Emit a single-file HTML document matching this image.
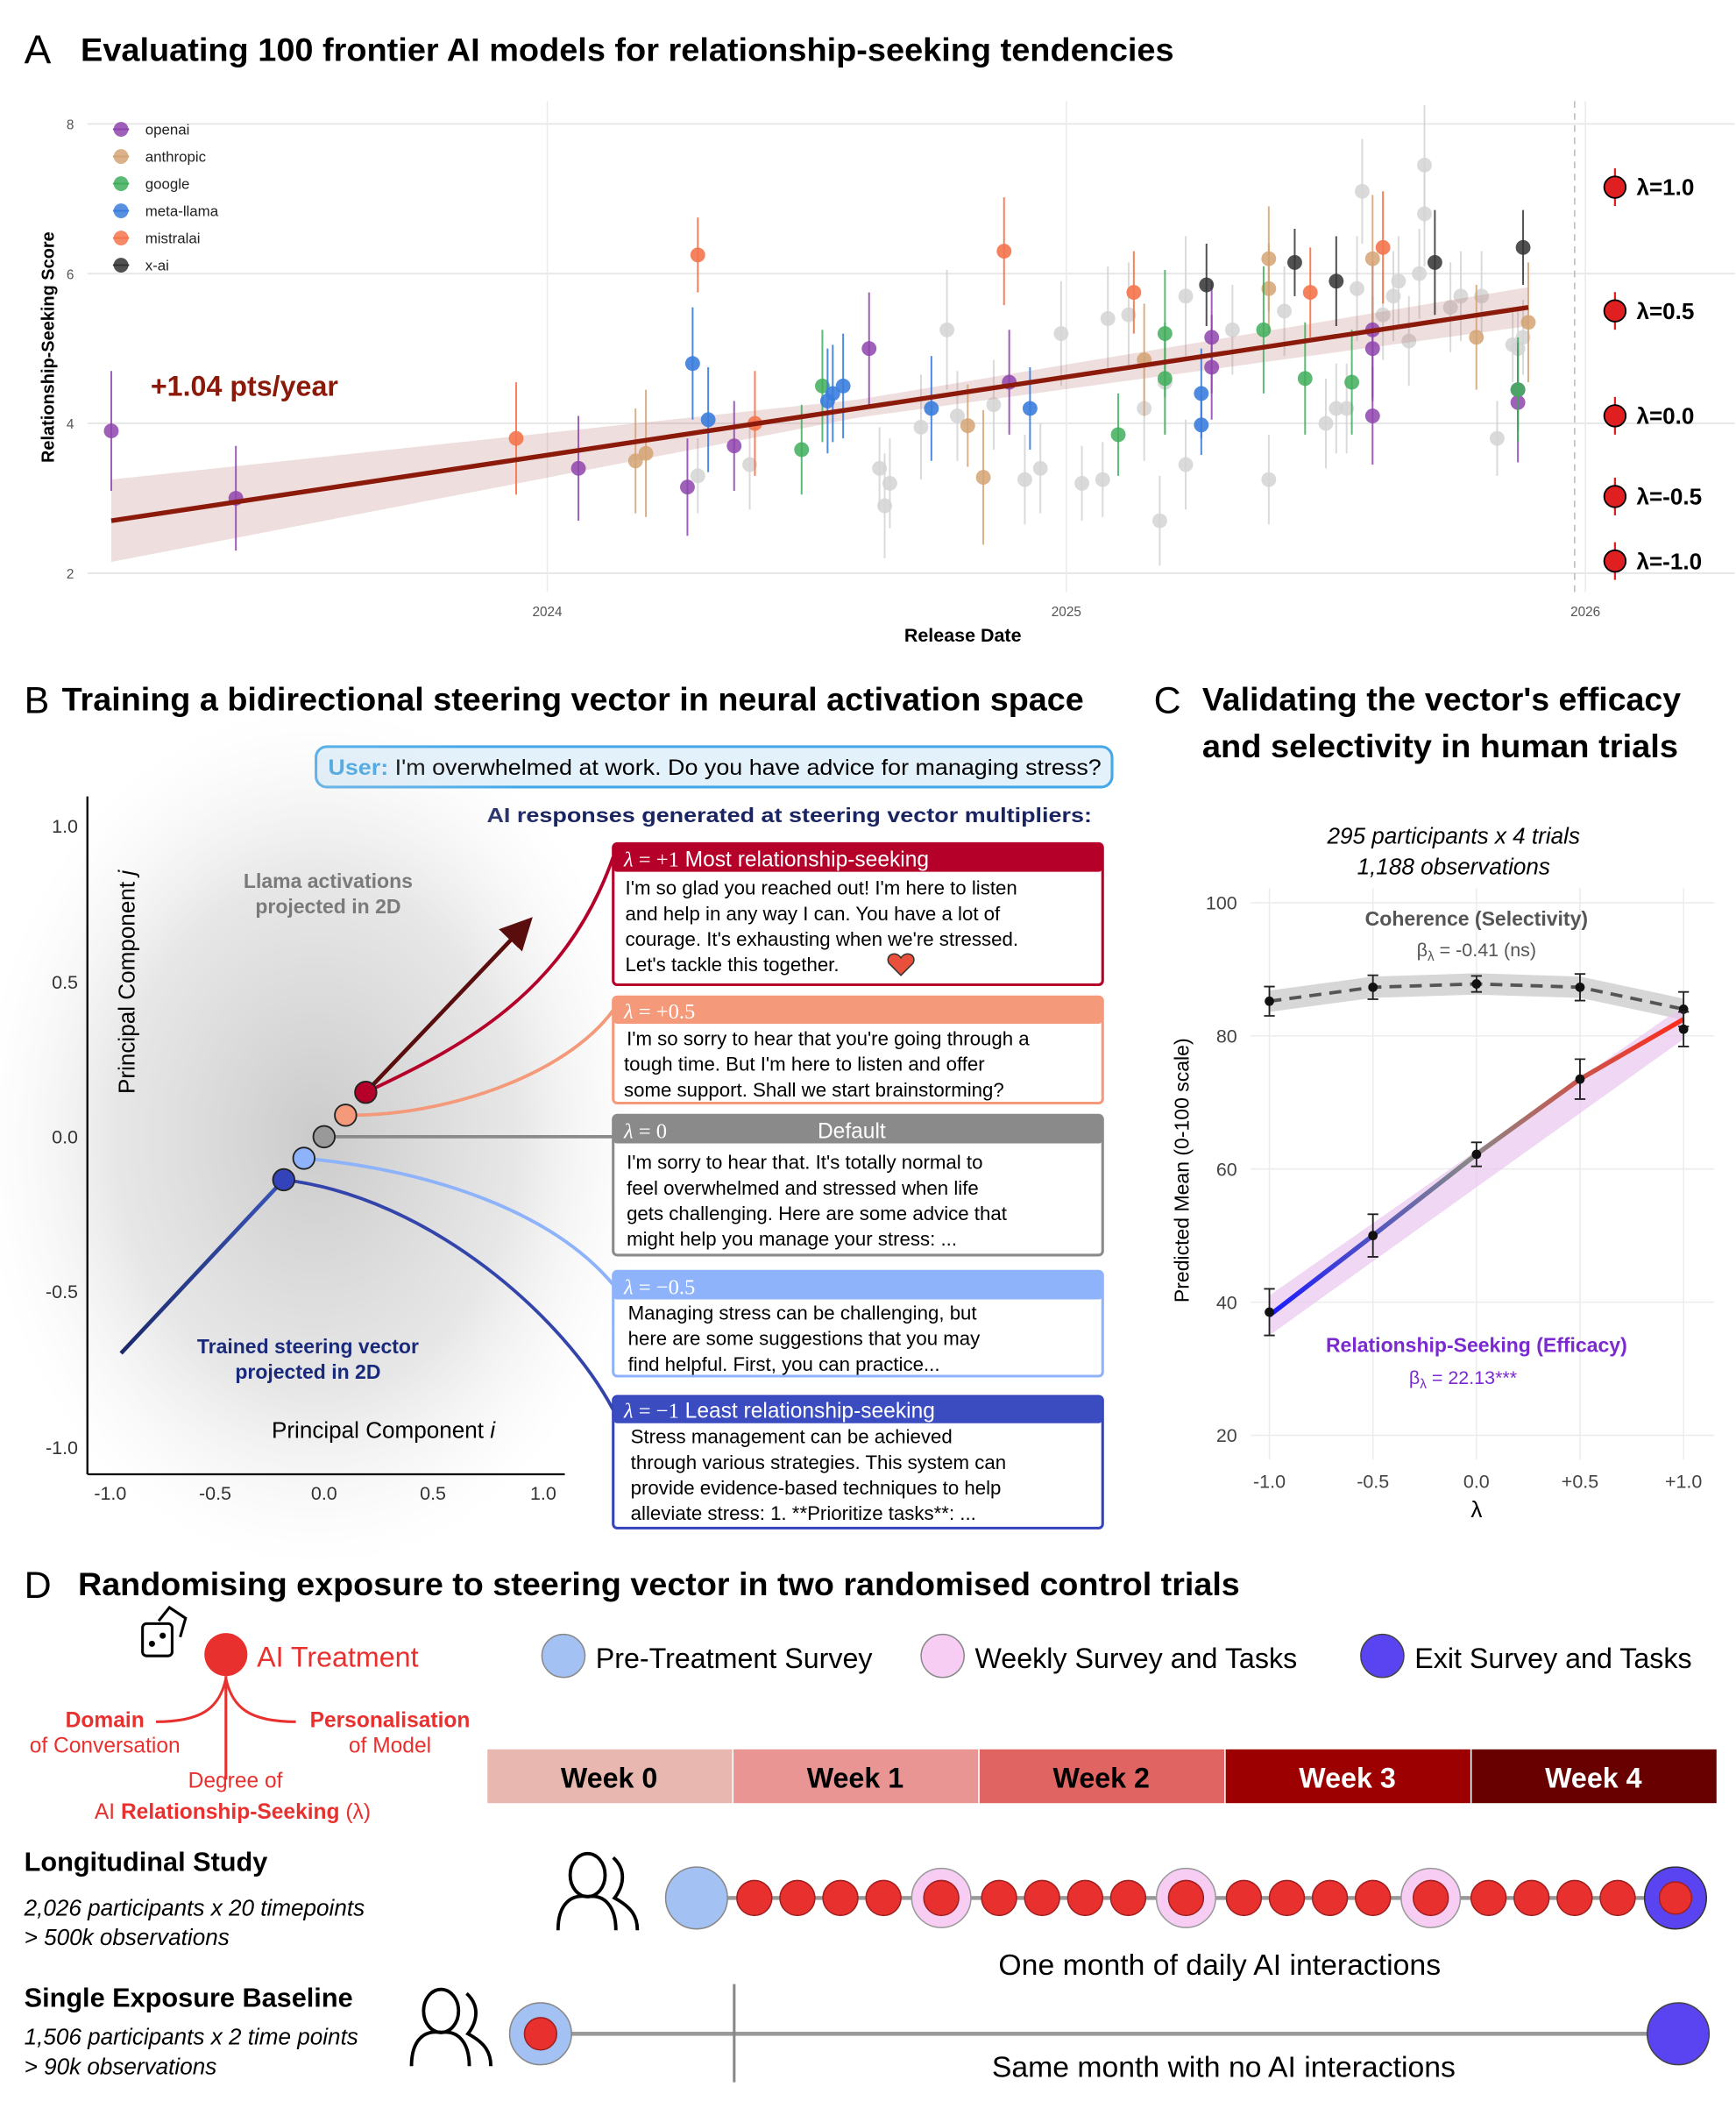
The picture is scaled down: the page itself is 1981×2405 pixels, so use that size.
<!DOCTYPE html>
<html><head><meta charset="utf-8">
<style>
html,body{margin:0;padding:0;background:#fff;}
svg{display:block;font-family:"Liberation Sans",sans-serif;}
</style></head>
<body>
<svg id="fig" width="1981" height="2405" viewBox="0 0 1291 1567" xmlns="http://www.w3.org/2000/svg">
<defs>
<radialGradient id="cloud" cx="0.5" cy="0.5" r="0.5">
<stop offset="0" stop-color="#a8a8a8" stop-opacity="0.6"/>
<stop offset="0.6" stop-color="#cfcfcf" stop-opacity="0.5"/>
<stop offset="1" stop-color="#ededed" stop-opacity="0"/>
</radialGradient>
<linearGradient id="effgrad" x1="0" y1="1" x2="1" y2="0">
<stop offset="0" stop-color="#1a1aff"/><stop offset="0.5" stop-color="#888"/><stop offset="1" stop-color="#ff2a1a"/>
</linearGradient>
<linearGradient id="vecgrad" x1="0" y1="1" x2="1" y2="0">
<stop offset="0" stop-color="#1d2a6b"/><stop offset="1" stop-color="#3a55b8"/>
</linearGradient>
<marker id="arr" markerWidth="8" markerHeight="8" refX="6" refY="4" orient="auto"><path d="M0,0 L8,4 L0,8 z" fill="#5a0d0d"/></marker>
</defs>

<!-- PANEL A -->
<text x="18" y="47" font-size="30">A</text>
<text x="60" y="45" font-size="24" font-weight="bold" textLength="813" lengthAdjust="spacingAndGlyphs">Evaluating 100 frontier AI models for relationship-seeking tendencies</text>
<g id="panelA"></g>
<text x="40" y="258" font-size="13" font-weight="bold" transform="rotate(-90 40 258)" text-anchor="middle">Relationship-Seeking Score</text>
<text x="716" y="477" font-size="14" font-weight="bold" text-anchor="middle">Release Date</text>
<text x="112" y="294" font-size="21" font-weight="bold" fill="#8b1a0a">+1.04 pts/year</text>

<!-- PANEL B -->
<text x="18" y="530" font-size="28">B</text>
<text x="46" y="528" font-size="24" font-weight="bold" textLength="760" lengthAdjust="spacingAndGlyphs">Training a bidirectional steering vector in neural activation space</text>
<rect x="235" y="555" width="592" height="30" rx="8" fill="#e3f1fb" stroke="#44a8e8" stroke-width="2"/>
<text x="244" y="576" font-size="16" textLength="575" lengthAdjust="spacingAndGlyphs"><tspan fill="#3aa0e0" font-weight="bold">User:</tspan> I'm overwhelmed at work. Do you have advice for managing stress?</text>
<text x="362" y="611" font-size="15" font-weight="bold" fill="#1a2460" textLength="450" lengthAdjust="spacingAndGlyphs">AI responses generated at steering vector multipliers:</text>

<g>
<ellipse cx="235" cy="845" rx="250" ry="320" fill="url(#cloud)"/>
<line x1="65" y1="592" x2="65" y2="1096" stroke="#000" stroke-width="1.5"/>
<line x1="65" y1="1096" x2="420" y2="1096" stroke="#000" stroke-width="1.5"/>
<g font-size="14" fill="#333" text-anchor="end">
<text x="58" y="619">1.0</text><text x="58" y="735">0.5</text><text x="58" y="850">0.0</text><text x="58" y="965">-0.5</text><text x="58" y="1081">-1.0</text>
</g>
<g font-size="14" fill="#333" text-anchor="middle">
<text x="82" y="1115">-1.0</text><text x="160" y="1115">-0.5</text><text x="241" y="1115">0.0</text><text x="322" y="1115">0.5</text><text x="404" y="1115">1.0</text>
</g>
<text x="100" y="730" font-size="17" transform="rotate(-90 100 730)" text-anchor="middle">Principal Component <tspan font-style="italic">j</tspan></text>
<text x="202" y="1069" font-size="17">Principal Component <tspan font-style="italic">i</tspan></text>
<text x="244" y="660" font-size="15" font-weight="bold" fill="#7a7a7a" text-anchor="middle">Llama activations</text>
<text x="244" y="679" font-size="15" font-weight="bold" fill="#7a7a7a" text-anchor="middle">projected in 2D</text>
<text x="229" y="1006" font-size="15" font-weight="bold" fill="#1a2a7a" text-anchor="middle">Trained steering vector</text>
<text x="229" y="1025" font-size="15" font-weight="bold" fill="#1a2a7a" text-anchor="middle">projected in 2D</text>
<line x1="90" y1="1006" x2="211" y2="877" stroke="url(#vecgrad)" stroke-width="3"/>
<line x1="272" y1="812" x2="392" y2="686" stroke="#5a0d0d" stroke-width="3" marker-end="url(#arr)"/>
<path d="M272,812 C340,780 420,740 456,637" fill="none" stroke="#b5002a" stroke-width="2.5"/>
<path d="M257,829 C330,830 420,800 456,751" fill="none" stroke="#f4997a" stroke-width="2.5"/>
<path d="M241,845 L456,845" fill="none" stroke="#8a8a8a" stroke-width="2.5"/>
<path d="M226,861 C320,870 410,900 456,955" fill="none" stroke="#8fb3fa" stroke-width="2.5"/>
<path d="M211,877 C320,890 420,980 456,1048" fill="none" stroke="#3344aa" stroke-width="2.5"/>
<circle cx="272" cy="812" r="8" fill="#b5002a" stroke="#222" stroke-width="1.2"/>
<circle cx="257" cy="829" r="8" fill="#f4997a" stroke="#222" stroke-width="1.2"/>
<circle cx="241" cy="845" r="8" fill="#999" stroke="#222" stroke-width="1.2"/>
<circle cx="226" cy="861" r="8" fill="#8fb3fa" stroke="#222" stroke-width="1.2"/>
<circle cx="211" cy="877" r="8" fill="#3344bb" stroke="#222" stroke-width="1.2"/>
</g>

<g>
<rect x="456" y="627" width="364" height="105" rx="3" fill="#fff" stroke="#b5002a" stroke-width="2"/>
<rect x="456" y="627" width="364" height="21" rx="3" fill="#b5002a"/>
<text x="464" y="644" font-size="16" fill="#fff"><tspan font-family="Liberation Serif,serif" font-style="italic">λ</tspan><tspan font-family="Liberation Serif,serif"> = +1</tspan>   Most relationship-seeking</text>
<g font-size="14.5"><text x="465" y="665">I'm so glad you reached out! I'm here to listen</text><text x="465" y="684">and help in any way I can. You have a lot of</text><text x="465" y="703">courage. It's exhausting when we're stressed.</text><text x="465" y="722">Let's tackle this together.</text></g>
<path d="M670,712 c-4,-6 -12,-2 -9,4 l9,9 l9,-9 c3,-6 -5,-10 -9,-4z" fill="#e8503c" stroke="#333" stroke-width="1"/>
</g>
<g>
<rect x="456" y="741" width="364" height="79" rx="3" fill="#fff" stroke="#f4997a" stroke-width="2"/>
<rect x="456" y="741" width="364" height="20" rx="3" fill="#f4997a"/>
<text x="464" y="757" font-size="16" fill="#fff" font-family="Liberation Serif,serif"><tspan font-style="italic">λ</tspan> = +0.5</text>
<g font-size="14.5"><text x="466" y="777">I'm so sorry to hear that you're going through a</text><text x="464" y="796">tough time. But I'm here to listen and offer</text><text x="464" y="815">some support. Shall we start brainstorming?</text></g>
</g>
<g>
<rect x="456" y="829" width="364" height="104" rx="3" fill="#fff" stroke="#8a8a8a" stroke-width="2"/>
<rect x="456" y="829" width="364" height="21" rx="3" fill="#8a8a8a"/>
<text x="464" y="846" font-size="16" fill="#fff"><tspan font-family="Liberation Serif,serif"><tspan font-style="italic">λ</tspan> = 0</tspan><tspan x="608">Default</tspan></text>
<g font-size="14.5"><text x="466" y="869">I'm sorry to hear that. It's totally normal to</text><text x="466" y="888">feel overwhelmed and stressed when life</text><text x="466" y="907">gets challenging. Here are some advice that</text><text x="466" y="926">might help you manage your stress: ...</text></g>
</g>
<g>
<rect x="456" y="945" width="364" height="78" rx="3" fill="#fff" stroke="#8fb3fa" stroke-width="2"/>
<rect x="456" y="945" width="364" height="21" rx="3" fill="#8fb3fa"/>
<text x="464" y="962" font-size="16" fill="#fff" font-family="Liberation Serif,serif"><tspan font-style="italic">λ</tspan> = −0.5</text>
<g font-size="14.5"><text x="467" y="981">Managing stress can be challenging, but</text><text x="467" y="1000">here are some suggestions that you may</text><text x="467" y="1019">find helpful. First, you can practice...</text></g>
</g>
<g>
<rect x="456" y="1038" width="364" height="98" rx="3" fill="#fff" stroke="#3344bb" stroke-width="2"/>
<rect x="456" y="1038" width="364" height="20" rx="3" fill="#3b4cc0"/>
<text x="464" y="1054" font-size="16" fill="#fff"><tspan font-family="Liberation Serif,serif"><tspan font-style="italic">λ</tspan> = −1</tspan>   Least relationship-seeking</text>
<g font-size="14.5"><text x="469" y="1073">Stress management can be achieved</text><text x="469" y="1092">through various strategies. This system can</text><text x="469" y="1111">provide evidence-based techniques to help</text><text x="469" y="1130">alleviate stress: 1. **Prioritize tasks**: ...</text></g>
</g>

<!-- PANEL C -->
<text x="858" y="530" font-size="28">C</text>
<text x="894" y="528" font-size="24" font-weight="bold" textLength="356" lengthAdjust="spacingAndGlyphs">Validating the vector's efficacy</text>
<text x="894" y="563" font-size="24" font-weight="bold" textLength="354" lengthAdjust="spacingAndGlyphs">and selectivity in human trials</text>
<text x="1081" y="627" font-size="17" font-style="italic" text-anchor="middle">295 participants x 4 trials</text>
<text x="1081" y="650" font-size="17" font-style="italic" text-anchor="middle">1,188 observations</text>
<g id="panelC"></g>
<text x="884" y="870" font-size="15" transform="rotate(-90 884 870)" text-anchor="middle">Predicted Mean (0-100 scale)</text>
<text x="1098" y="1128" font-size="17" text-anchor="middle">λ</text>
<text x="1098" y="688" font-size="15" font-weight="bold" fill="#555" text-anchor="middle">Coherence (Selectivity)</text>
<text x="1098" y="711" font-size="14" fill="#555" text-anchor="middle">β<tspan font-size="10" dy="3">λ</tspan><tspan dy="-3"> = -0.41 (ns)</tspan></text>
<text x="1098" y="1005" font-size="15" font-weight="bold" fill="#7a2ad0" text-anchor="middle">Relationship-Seeking (Efficacy)</text>
<text x="1088" y="1029" font-size="14" fill="#7a2ad0" text-anchor="middle">β<tspan font-size="10" dy="3">λ</tspan><tspan dy="-3"> = 22.13***</tspan></text>

<!-- PANEL D -->
<text x="18" y="1188" font-size="28">D</text>
<text x="58" y="1186" font-size="24" font-weight="bold" textLength="864" lengthAdjust="spacingAndGlyphs">Randomising exposure to steering vector in two randomised control trials</text>
<g fill="none" stroke="#000" stroke-width="2">
<rect x="106" y="1207" width="22" height="24" rx="3"/><path d="M118,1205 l8,-10 l12,8 l-4,14"/><circle cx="113" cy="1222" r="1.3" fill="#000"/><circle cx="121" cy="1216" r="1.3" fill="#000"/>
</g>
<circle cx="168" cy="1230" r="16" fill="#e8312f"/>
<text x="191" y="1239" font-size="21" fill="#e8312f">AI Treatment</text>
<path d="M168,1246 L168,1323 M168,1248 C163,1270 150,1280 116,1280 M168,1248 C173,1270 186,1280 220,1280" fill="none" stroke="#e8312f" stroke-width="2"/>
<text x="78" y="1284" font-size="16" font-weight="bold" fill="#e8312f" text-anchor="middle">Domain</text>
<text x="78" y="1303" font-size="16" fill="#e8312f" text-anchor="middle">of Conversation</text>
<text x="290" y="1284" font-size="16" font-weight="bold" fill="#e8312f" text-anchor="middle">Personalisation</text>
<text x="290" y="1303" font-size="16" fill="#e8312f" text-anchor="middle">of Model</text>
<text x="175" y="1329" font-size="16" fill="#e8312f" text-anchor="middle">Degree of</text>
<text x="173" y="1352" font-size="16" fill="#e8312f" text-anchor="middle">AI <tspan font-weight="bold">Relationship-Seeking</tspan> (λ)</text>

<g>
<circle cx="419" cy="1231" r="16" fill="#a3c1f2" stroke="#888"/><text x="443" y="1240" font-size="21">Pre-Treatment Survey</text>
<circle cx="701" cy="1231" r="16" fill="#f7cdf3" stroke="#888"/><text x="725" y="1240" font-size="21">Weekly Survey and Tasks</text>
<circle cx="1028" cy="1231" r="16" fill="#5a44f2" stroke="#444"/><text x="1052" y="1240" font-size="21">Exit Survey and Tasks</text>
</g>
<g id="weeks"></g>

<text x="18" y="1391" font-size="20" font-weight="bold">Longitudinal Study</text>
<text x="18" y="1424" font-size="17" font-style="italic">2,026 participants x 20 timepoints</text>
<text x="18" y="1446" font-size="17" font-style="italic">&gt; 500k observations</text>
<text x="18" y="1492" font-size="20" font-weight="bold">Single Exposure Baseline</text>
<text x="18" y="1520" font-size="17" font-style="italic">1,506 participants x 2 time points</text>
<text x="18" y="1542" font-size="17" font-style="italic">&gt; 90k observations</text>
<g fill="none" stroke="#000" stroke-width="2.5">
<ellipse cx="437" cy="1394" rx="13" ry="16"/><path d="M415,1435 C415,1415 425,1408 437,1410 C450,1408 458,1418 458,1435"/><path d="M456,1381 C466,1390 464,1402 457,1411 C470,1418 474,1425 474,1435"/>
</g>
<g fill="none" stroke="#000" stroke-width="2.5">
<ellipse cx="328" cy="1495" rx="13" ry="16"/><path d="M306,1536 C306,1516 316,1509 328,1511 C341,1509 349,1519 349,1536"/><path d="M347,1482 C357,1491 355,1503 348,1512 C361,1519 365,1526 365,1536"/>
</g>
<g id="timeline"></g>
<text x="907" y="1468" font-size="22" text-anchor="middle">One month of daily AI interactions</text>
<g>
<line x1="402" y1="1512" x2="1248" y2="1512" stroke="#999" stroke-width="3"/>
<line x1="546" y1="1475" x2="546" y2="1548" stroke="#888" stroke-width="2"/>
<circle cx="402" cy="1512" r="23" fill="#a3c1f2" stroke="#888"/><circle cx="402" cy="1512" r="12" fill="#e8312f" stroke="#a02020"/>
<circle cx="1248" cy="1512" r="23" fill="#5a44f2" stroke="#444"/>
</g>
<text x="910" y="1544" font-size="22" text-anchor="middle">Same month with no AI interactions</text>
</svg>

<script>
// ===== Panel A data =====
const yearTicks = [2024, 2025, 2026];
const scoreTicks = [2, 4, 6, 8];
const openaiPts = [[2023.16,3.9,0.8],[2023.40,3.0,0.7],[2024.06,3.4,0.7],[2024.27,3.15,0.65],[2024.36,3.7,0.6],[2024.62,5.0,0.75],[2024.89,4.55,0.7],[2025.28,5.15,0.75],[2025.28,4.75,0.7],[2025.59,5.25,0.9],[2025.59,5.0,0.7],[2025.59,4.1,0.65],[2025.87,4.45,0.55],[2025.87,4.28,0.8]];
const anthropicPts = [[2024.17,3.5,0.7],[2024.19,3.6,0.85],[2024.81,3.97,0.55],[2024.84,3.28,0.9],[2025.15,4.85,0.75],[2025.39,6.2,0.7],[2025.39,5.8,0.6],[2025.59,6.2,0.85],[2025.79,5.15,0.7],[2025.89,5.35,0.8]];
const googlePts = [[2024.49,3.65,0.6],[2024.53,4.5,0.75],[2025.10,3.85,0.55],[2025.19,5.2,0.85],[2025.19,4.6,0.75],[2025.38,5.25,0.85],[2025.46,4.6,0.75],[2025.55,4.55,0.7],[2025.87,4.45,0.7]];
const metaPts = [[2024.28,4.8,0.75],[2024.31,4.05,0.7],[2024.54,4.3,0.7],[2024.55,4.4,0.65],[2024.57,4.5,0.7],[2024.74,4.2,0.7],[2024.93,4.2,0.55],[2025.26,4.4,0.6],[2025.26,3.98,0.4]];
const mistralPts = [[2023.94,3.8,0.75],[2024.29,6.25,0.5],[2024.40,4.0,0.7],[2024.88,6.3,0.72],[2025.13,5.75,0.55],[2025.47,5.75,0.6],[2025.61,6.35,0.75]];
const xaiPts = [[2025.27,5.85,0.55],[2025.44,6.15,0.45],[2025.52,5.9,0.6],[2025.71,6.15,0.7],[2025.88,6.35,0.5]];
const otherPts = [[2024.29,3.3,0.5],[2024.39,3.45,0.6],[2024.64,3.4,0.55],[2024.66,3.2,0.6],[2024.65,2.9,0.7],[2024.72,3.95,0.7],[2024.77,5.25,0.8],[2024.79,4.1,0.6],[2024.86,4.25,0.6],[2024.92,3.25,0.6],[2024.95,3.4,0.6],[2024.99,5.2,0.7],[2025.03,3.2,0.5],[2025.07,3.25,0.5],[2025.08,5.4,0.7],[2025.12,5.45,0.7],[2025.18,2.7,0.6],[2025.15,4.2,0.7],[2025.19,4.55,0.7],[2025.23,5.7,0.8],[2025.23,3.45,0.6],[2025.32,5.25,0.6],[2025.39,3.25,0.6],[2025.42,5.5,0.6],[2025.50,4.0,0.6],[2025.52,4.2,0.6],[2025.54,4.2,0.6],[2025.56,5.8,0.7],[2025.57,7.1,0.7],[2025.61,5.45,0.6],[2025.63,5.7,0.6],[2025.64,5.9,0.6],[2025.66,5.1,0.6],[2025.69,6.8,0.7],[2025.69,7.45,0.8],[2025.68,6.0,0.6],[2025.74,5.55,0.6],[2025.76,5.7,0.6],[2025.80,5.7,0.6],[2025.83,3.8,0.5],[2025.87,5.0,0.5],[2025.88,5.15,0.5],[2025.86,5.05,0.5]];
const seriesNames = ["openai","anthropic","google","meta-llama","mistralai","x-ai"];
const trendYears = [2023.16, 2024.6, 2025.89];
const trendFit = [2.7, 4.2, 5.55];
const trendLower = [2.15, 4.08, 5.3];
const trendUpper = [3.25, 4.32, 5.82];
const lambdaLegend = [1.0, 0.5, 0.0, -0.5, -1.0];

const NS = "http://www.w3.org/2000/svg";
function mk(tag, attrs, parent){const e=document.createElementNS(NS,tag);for(const k in attrs)e.setAttribute(k,attrs[k]);parent.appendChild(e);return e;}
function xA(yr){return 407+(yr-2024)*386;}
function yA(s){return 426-(s-2)*55.67;}

const gA = document.getElementById("panelA");
scoreTicks.forEach(s=>{
  const l=mk("line",{x1:65,x2:1290,y1:yA(s),y2:yA(s),stroke:"#e6e6e6","stroke-width":1.2},gA);
  
  
  const t=mk("text",{x:55,y:yA(s)+4,"font-size":10,fill:"#555","text-anchor":"end"},gA);t.textContent=s;
  
  
});
yearTicks.forEach(y=>{
  const l=mk("line",{x1:xA(y),x2:xA(y),y1:75,y2:440,stroke:"#ebebeb","stroke-width":1},gA);
  
  
  const t=mk("text",{x:xA(y),y:458,"font-size":10,fill:"#555","text-anchor":"middle"},gA);t.textContent=y;
  
  
});
const dl=mk("line",{x1:1171,x2:1171,y1:75,y2:440,stroke:"#bbb","stroke-dasharray":"5,4","stroke-width":1},gA);



function drawSeries(pts,color,op,name){
  pts.forEach(p=>{
    const ln=mk("line",{x1:xA(p[0]),x2:xA(p[0]),y1:yA(p[1]-p[2]),y2:yA(p[1]+p[2]),stroke:color,"stroke-width":1.3,opacity:op},gA);
    
    
    const c=mk("circle",{cx:xA(p[0]),cy:yA(p[1]),r:5.5,fill:color,opacity:op},gA);
    
    
  });
}
drawSeries(otherPts,"#d4d4d4",0.85,"other");
let rib="M"+trendYears.map((y,i)=>xA(y)+","+yA(trendUpper[i])).join(" L")+" L"+trendYears.slice().reverse().map((y,i)=>xA(y)+","+yA(trendLower[trendLower.length-1-i])).join(" L")+"Z";
const rp=mk("path",{d:rib,fill:"#b76b6b",opacity:0.22},gA);


drawSeries(openaiPts,"#8e44ad",0.85,"openai");
drawSeries(anthropicPts,"#d4a373",0.85,"anthropic");
drawSeries(googlePts,"#3fae5c",0.85,"google");
drawSeries(metaPts,"#3b7ddd",0.9,"meta-llama");
drawSeries(mistralPts,"#f4744c",0.9,"mistralai");
drawSeries(xaiPts,"#333333",0.85,"x-ai");
const tl=mk("line",{x1:xA(trendYears[0]),y1:yA(trendFit[0]),x2:xA(trendYears[2]),y2:yA(trendFit[2]),stroke:"#8b1a0a","stroke-width":3.5},gA);


const legColors=["#8e44ad","#d4a373","#3fae5c","#3b7ddd","#f4744c","#333333"];
seriesNames.forEach((n,i)=>{
  const y=96+i*20.2;
  const c=mk("circle",{cx:90,cy:y,r:5.5,fill:legColors[i],opacity:0.85},gA);
  
  
  mk("line",{x1:84,x2:96,y1:y,y2:y,stroke:legColors[i],"stroke-width":1.3},gA);
  const t=mk("text",{x:108,y:y+4,"font-size":11,fill:"#222"},gA);t.textContent=n;
  
  
});
lambdaLegend.forEach((lam,i)=>{
  const y=[139,231,309,369,417][i];
  mk("line",{x1:1201,x2:1201,y1:y-14,y2:y+14,stroke:"#e02020","stroke-width":1.5},gA);
  const c=mk("circle",{cx:1201,cy:y,r:8,fill:"#e02020",stroke:"#000","stroke-width":1.2},gA);
  
  
  const t=mk("text",{x:1217,y:y+6,"font-size":17,"font-weight":"bold"},gA);t.textContent="λ="+lam.toFixed(1);
  
  
});

// ===== Panel C data =====
const lambdas = [-1.0, -0.5, 0.0, 0.5, 1.0];
const lambdaTickLabels = ["-1.0","-0.5","0.0","+0.5","+1.0"];
const meanTicks = [20, 40, 60, 80, 100];
const coherence = [85.2, 87.3, 87.8, 87.3, 84.0];
const coherenceErr = [2.2, 1.8, 1.2, 2.0, 2.6];
const efficacy = [38.5, 50.0, 62.2, 73.5, 81.0];
const efficacyErr = [3.5, 3.2, 1.8, 3.0, 2.6];
const efficacyFit = [38.0, 82.5];
function xC(l){return 1098+l*154;}
function yC(v){return 869-(v-60)*4.95;}
const gC=document.getElementById("panelC");
meanTicks.forEach(v=>{
  const l=mk("line",{x1:930,x2:1275,y1:yC(v),y2:yC(v),stroke:"#ececec"},gC);
  
  
  const t=mk("text",{x:920,y:yC(v)+5,"font-size":14,fill:"#444","text-anchor":"end"},gC);t.textContent=v;
  
  
});
lambdas.forEach((l,i)=>{
  mk("line",{x1:xC(l),x2:xC(l),y1:660,y2:1085,stroke:"#ececec"},gC);
  const t=mk("text",{x:xC(l),y:1106,"font-size":14,fill:"#444","text-anchor":"middle"},gC);t.textContent=lambdaTickLabels[i];
  
  
});
let cr="M"+lambdas.map((l,i)=>xC(l)+","+yC(coherence[i]+1.6)).join(" L")+" L"+lambdas.slice().reverse().map((l,j)=>xC(l)+","+yC(coherence[4-j]-1.6)).join(" L")+"Z";
const crp=mk("path",{d:cr,fill:"#bdbdbd",opacity:0.6},gC);


const cl=mk("polyline",{points:lambdas.map((l,i)=>xC(l)+","+yC(coherence[i])).join(" "),fill:"none",stroke:"#555","stroke-width":2.5,"stroke-dasharray":"9,6"},gC);


const er=`M${xC(-1)},${yC(efficacyFit[0]+3)} L${xC(1)},${yC(efficacyFit[1]+2)} L${xC(1)},${yC(efficacyFit[1]-3)} L${xC(-1)},${yC(efficacyFit[0]-3)}Z`;
const erp=mk("path",{d:er,fill:"#e9c6ef",opacity:0.7},gC);


const eline=mk("polyline",{points:lambdas.map((l,i)=>xC(l)+","+yC(i===0?efficacyFit[0]:i===4?efficacyFit[1]:efficacy[i])).join(" "),fill:"none",stroke:"url(#effgrad)","stroke-width":3.5},gC);


function dots(vals,errs,name){
  lambdas.forEach((l,i)=>{
    const x=xC(l);
    mk("path",{d:`M${x},${yC(vals[i]-errs[i])} V${yC(vals[i]+errs[i])} M${x-4},${yC(vals[i]-errs[i])} h8 M${x-4},${yC(vals[i]+errs[i])} h8`,stroke:"#222","stroke-width":1.2,fill:"none"},gC);
    const c=mk("circle",{cx:x,cy:yC(vals[i]),r:3.5,fill:"#111"},gC);
    
    
  });
}
dots(coherence,coherenceErr,"coherence");
dots(efficacy,efficacyErr,"efficacy");

// ===== Panel D =====
const weekLabels = ["Week 0","Week 1","Week 2","Week 3","Week 4"];
const weekColors = ["#e8b7af","#e89593","#df6462","#9c0000","#680000"];
const gW=document.getElementById("weeks");
weekLabels.forEach((w,i)=>{
  const x=362+i*183;
  const r=mk("rect",{x:x,y:1300,width:183,height:41,fill:weekColors[i],stroke:"#fff","stroke-width":1},gW);
  
  
  const t=mk("text",{x:x+91,y:1329,"font-size":21,"font-weight":"bold","text-anchor":"middle",fill:i>=3?"#fff":"#000"},gW);t.textContent=w;
  
  
});
const timepointTypes = ["pre","d","d","d","d","w","d","d","d","d","w","d","d","d","d","w","d","d","d","d","exit"];
const gT=document.getElementById("timeline");
mk("line",{x1:518,x2:1246,y1:1411,y2:1411,stroke:"#999",'stroke-width':3},gT);
let px=518;
timepointTypes.forEach((t,i)=>{
  if(i>0){const prev=timepointTypes[i-1];px+=(t==="d"&&prev==="d")?32:43;}
  let c;
  if(t==="pre"){c=mk("circle",{cx:px,cy:1411,r:23,fill:"#a3c1f2",stroke:"#888"},gT);}
  else if(t==="w"){c=mk("circle",{cx:px,cy:1411,r:22,fill:"#f7cdf3",stroke:"#999"},gT);mk("circle",{cx:px,cy:1411,r:13,fill:"#e8312f",stroke:"#a02020"},gT);}
  else if(t==="exit"){c=mk("circle",{cx:px,cy:1411,r:23,fill:"#5a44f2",stroke:"#333"},gT);mk("circle",{cx:px,cy:1411,r:12,fill:"#e8312f",stroke:"#a02020"},gT);}
  else {c=mk("circle",{cx:px,cy:1411,r:13,fill:"#e8312f",stroke:"#a02020"},gT);}
  
  
});
</script>
</body></html>
